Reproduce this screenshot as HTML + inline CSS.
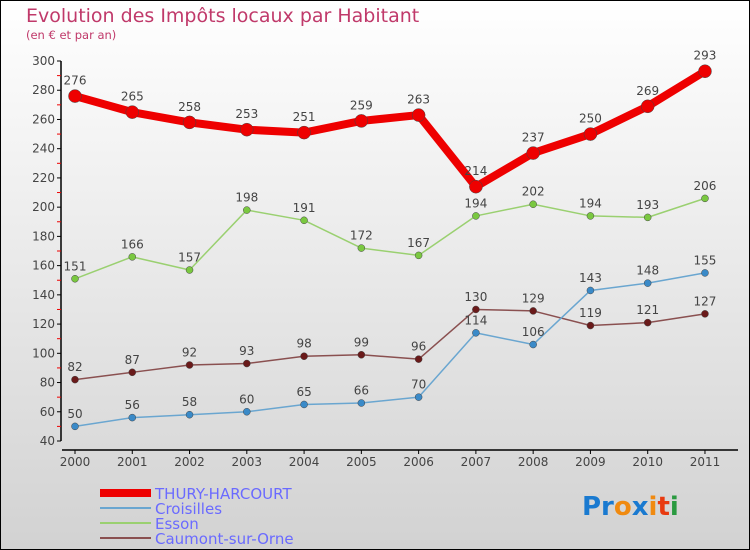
<!DOCTYPE html>
<html><head><meta charset="utf-8"><style>
body{margin:0}
svg{display:block;font-family:"DejaVu Sans","Liberation Sans",sans-serif}
</style></head><body>
<svg id="c" width="750" height="550">
<defs><linearGradient id="bg" x1="0" y1="0" x2="0" y2="1"><stop offset="0" stop-color="#ffffff"/><stop offset="1" stop-color="#d2d2d2"/></linearGradient></defs>
<rect x="0.5" y="0.5" width="749" height="549" fill="url(#bg)" stroke="#000"/>
<text x="26" y="22" font-size="19" fill="#c0396a">Evolution des Impôts locaux par Habitant</text>
<text x="26" y="39" font-size="11.5" fill="#c0396a">(en € et par an)</text>
<g id="axes"></g><g id="series"></g>
<g font-size="15" fill="#6a6aff">
<rect x="100" y="489" width="51" height="8" fill="#e00"/>
<text x="155" y="499">THURY-HARCOURT</text>
<line x1="100" x2="151" y1="508" y2="508" stroke="#6aa6d0" stroke-width="2"/>
<text x="155" y="514">Croisilles</text>
<line x1="100" x2="151" y1="523" y2="523" stroke="#9ad070" stroke-width="2"/>
<text x="155" y="529">Esson</text>
<line x1="100" x2="151" y1="538" y2="538" stroke="#8a5050" stroke-width="2"/>
<text x="155" y="544">Caumont-sur-Orne</text>
</g>
<text x="582" y="515" font-size="26" font-weight="bold"><tspan fill="#1a7ad0">Pr</tspan><tspan fill="#f08a10">o</tspan><tspan fill="#1a7ad0">x</tspan><tspan fill="#f08a10">i</tspan><tspan fill="#e83a10">t</tspan><tspan fill="#2a9a40">i</tspan></text>
</svg>
<script>
const years=[2000,2001,2002,2003,2004,2005,2006,2007,2008,2009,2010,2011];
const yTicks=[40,60,80,100,120,140,160,180,200,220,240,260,280,300];
const thury=[276,265,258,253,251,259,263,214,237,250,269,293];
const croisilles=[50,56,58,60,65,66,70,114,106,143,148,155];
const esson=[151,166,157,198,191,172,167,194,202,194,193,206];
const caumont=[82,87,92,93,98,99,96,130,129,119,121,127];
const NS="http://www.w3.org/2000/svg";
const X=i=>75+i*57.27, Y=v=>441-(v-40)*380/260;
function mk(t,a,p){const e=document.createElementNS(NS,t);for(const k in a)e.setAttribute(k,a[k]);p.appendChild(e);return e;}
const ax=document.getElementById('axes'), sg=document.getElementById('series');
let l=mk('line',{x1:61,x2:61,y1:61,y2:441,stroke:'#000','stroke-width':1.5},ax);


l=mk('line',{x1:62,x2:738,y1:450,y2:450,stroke:'#000','stroke-width':1.5},ax);


yTicks.forEach((v,i)=>{
  mk('line',{x1:57,x2:61,y1:Y(v),y2:Y(v),stroke:'#000'},ax);
  if(i<yTicks.length-1) mk('line',{x1:57,x2:61,y1:Y(v+10),y2:Y(v+10),stroke:'#e00'},ax);
  const t=mk('text',{x:55,y:Y(v)+4,'font-size':12,fill:'#444','text-anchor':'end'},ax);
  t.textContent=v;
  
  
});
years.forEach((y,i)=>{
  mk('line',{x1:X(i),x2:X(i),y1:450,y2:454,stroke:'#000'},ax);
  const t=mk('text',{x:X(i),y:466,'font-size':12,fill:'#444','text-anchor':'middle'},ax);
  t.textContent=y;
  
  
});
function series(d,name,col,dot,w,r){
  const g=mk('g',{},sg);
  
  
  mk('polyline',{points:d.map((v,i)=>X(i)+','+Y(v)).join(' '),fill:'none',stroke:col,'stroke-width':w,'stroke-linejoin':'round'},g);
  d.forEach((v,i)=>{
    const c=mk('circle',{cx:X(i),cy:Y(v),r:r,fill:dot,stroke:'#444','stroke-width':0.5},g);
    
    
    const t=mk('text',{x:X(i),y:Y(v)-r-5,'font-size':12,fill:'#444','text-anchor':'middle'},g);
    t.textContent=v;
    
    
  });
}
series(caumont,'caumont','#8a5050','#6a1a1a',1.5,3.5);
series(croisilles,'croisilles','#6aa6d0','#3a8ac8',1.5,3.5);
series(esson,'esson','#9ad070','#7ac840',1.5,3.5);
series(thury,'thury','#e00','#e00',8,6.5);
</script>
</body></html>
